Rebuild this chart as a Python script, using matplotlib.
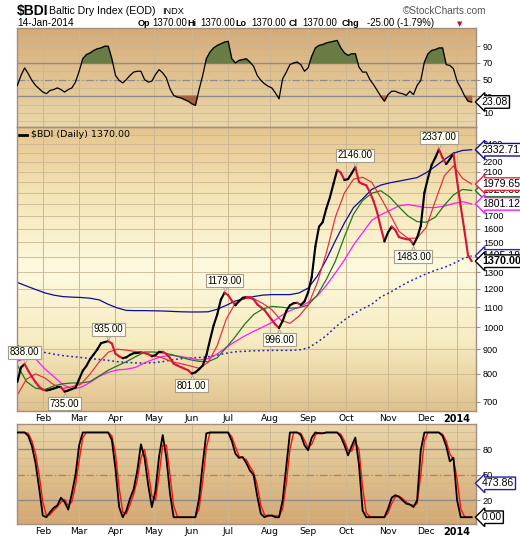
"""Baltic Dry Index, one year daily, StockCharts-style three panel chart."""

import matplotlib

matplotlib.use("Agg")
import matplotlib.pyplot as plt
import matplotlib.transforms as mtransforms
import numpy as np
import pandas as pd
from matplotlib.collections import LineCollection
from matplotlib.colors import LinearSegmentedColormap
from matplotlib.ticker import NullLocator

plt.rcParams["font.family"] = ["DejaVu Sans"]

# --- data -----------------------------------------------------------------
HOLIDAYS = ["2013-03-29", "2013-04-01", "2013-05-06", "2013-05-27", "2013-08-26",
            "2013-12-24", "2013-12-25", "2013-12-26", "2013-12-27", "2013-12-31",
            "2014-01-01"]
sessions = pd.bdate_range("2013-01-14", "2014-01-14", freq="C", holidays=HOLIDAYS)

# closes, every 2nd session
price = [770, 825, 838, 812, 789, 769, 752, 742, 739, 742,
         746, 750, 750, 735, 739, 744, 749, 780, 812, 831,
         858, 878, 899, 926, 931, 935, 925, 881, 870, 862,
         866, 876, 883, 884, 887, 884, 879, 870, 875, 889,
         889, 880, 863, 840, 833, 826, 820, 814, 801, 806,
         818, 832, 874, 940, 1008, 1062, 1140, 1179, 1165, 1135,
         1110, 1132, 1150, 1155, 1153, 1142, 1115, 1100, 1085, 1060,
         1036, 1012, 996, 1030, 1080, 1110, 1121, 1123, 1112, 1130,
         1180, 1270, 1470, 1615, 1650, 1760, 1858, 1985, 2118, 2090,
         2018, 2028, 2085, 2146, 2000, 1981, 1968, 1905, 1826, 1730,
         1610, 1506, 1572, 1616, 1589, 1537, 1529, 1522, 1519, 1483,
         1533, 1620, 1900, 2040, 2170, 2245, 2337, 2245, 2178, 2230,
         2290, 2010, 1780, 1590, 1410, 1370]

# overlays, every 5th session
ma_red = [723, 780, 800, 785, 760, 746, 752, 762, 799, 847,
          887, 900, 896, 890, 882, 873, 863, 848, 840, 831,
          822, 845, 916, 1040, 1122, 1147, 1146, 1120, 1087, 1034,
          1018, 1054, 1110, 1235, 1424, 1690, 1898, 2027, 2045, 1998,
          1855, 1716, 1580, 1528, 1530, 1610, 1825, 2060, 2160, 2035,
          1979.65]
ma_green = [834, 771, 747, 742, 755, 763, 766, 766, 771, 792,
            814, 831, 848, 868, 888, 888, 884, 877, 866, 856,
            849, 848, 864, 907, 956, 1013, 1062, 1090, 1104, 1100,
            1095, 1097, 1111, 1165, 1255, 1370, 1540, 1715, 1830, 1895,
            1918, 1860, 1775, 1700, 1655, 1650, 1690, 1790, 1880, 1930,
            1920.39]
ma_magenta = [850, 862, 860, 820, 790, 760, 745, 750, 768, 790,
              806, 815, 818, 825, 843, 858, 870, 874, 869, 862,
              855, 860, 880, 908, 934, 958, 980, 1000, 1022, 1055,
              1082, 1100, 1125, 1160, 1220, 1295, 1378, 1480, 1570, 1665,
              1710, 1746, 1784, 1795, 1782, 1770, 1770, 1782, 1805, 1820,
              1801.12]
ma_blue = [1238, 1217, 1197, 1178, 1165, 1157, 1154, 1152, 1148, 1139,
           1115, 1096, 1083, 1082, 1082, 1081, 1080, 1078, 1076, 1075,
           1075, 1076, 1089, 1110, 1133, 1145, 1157, 1165, 1168, 1168,
           1168, 1177, 1205, 1275, 1380, 1510, 1645, 1770, 1845, 1930,
           1970, 1992, 2008, 2025, 2042, 2090, 2155, 2225, 2295, 2325,
           2332.71]
ma_dotted = [915, 905, 895, 886, 879, 873, 869, 865, 861, 857,
             853, 848, 845, 843, 842, 844, 848, 855, 860, 863,
             865, 868, 875, 883, 889, 891, 893, 894, 895, 895,
             895, 897, 905, 930, 960, 1000, 1035, 1065, 1092, 1115,
             1155, 1180, 1210, 1240, 1265, 1290, 1312, 1330, 1355, 1385,
             1405.18]

# RSI and stochastics, every 2nd session
rsi = [43, 55, 64, 57, 49, 43, 39, 35, 33, 37,
       38, 40, 38, 35, 38, 40, 47, 60, 75, 80,
       82, 85, 87, 88, 90, 90, 75, 55, 49, 46,
       50, 55, 59, 60, 60, 50, 47, 48, 56, 62,
       58, 52, 39, 31, 29, 28, 26, 24, 21, 19,
       38, 55, 75, 83, 88, 91, 93, 95, 96, 75,
       70, 73, 74, 75, 71, 66, 55, 49, 45, 42,
       40, 34, 27, 51, 59, 68, 70, 71, 68, 60,
       64, 78, 88, 91, 92, 94, 95, 96, 97, 88,
       82, 79, 81, 81, 65, 59, 59, 50, 44, 37,
       30, 24, 32, 36, 36, 34, 33, 31, 36, 32,
       43, 49, 71, 81, 85, 86, 88, 88, 68, 67,
       63, 48, 40, 31, 24, 23.08]
stoch_k = [100, 100, 100, 96, 84, 64, 34, 2, 0, 6,
           11, 14, 23, 18, 9, 28, 50, 85, 100, 100,
           100, 100, 100, 100, 100, 100, 91, 57, 12, 0,
           8, 22, 33, 55, 86, 70, 38, 12, 31, 72,
           97, 70, 28, 0, 0, 0, 0, 0, 0, 0,
           22, 63, 99, 100, 100, 100, 100, 100, 100, 90,
           75, 70, 71, 64, 55, 50, 25, 4, 0, 2,
           2, 0, 0, 20, 60, 100, 100, 100, 97, 85,
           79, 94, 100, 99, 99, 100, 100, 100, 100, 95,
           85, 73, 84, 94, 62, 8, 0, 0, 0, 0,
           0, 0, 10, 23, 26, 24, 20, 16, 15, 12,
           20, 79, 100, 100, 100, 100, 100, 96, 84, 66,
           70, 20, 0, 0, 0, 0]
stoch_d = [100, 100, 100, 99, 90, 75, 50, 18, 2, 3,
           8, 12, 18, 21, 14, 18, 38, 67, 94, 100,
           100, 100, 100, 100, 100, 100, 96, 75, 35, 6,
           4, 15, 27, 44, 70, 80, 55, 25, 20, 50,
           85, 85, 50, 14, 1, 0, 0, 0, 0, 0,
           10, 42, 82, 100, 100, 100, 100, 100, 100, 95,
           83, 72, 70, 68, 60, 53, 38, 14, 3, 1,
           2, 2, 1, 10, 40, 80, 100, 100, 99, 91,
           82, 86, 97, 100, 99, 100, 100, 100, 100, 98,
           90, 79, 78, 89, 80, 35, 5, 1, 0, 0,
           0, 0, 5, 16, 24, 25, 22, 18, 15, 14,
           16, 50, 90, 100, 100, 100, 100, 98, 90, 75,
           68, 45, 10, 1, 0, 0]

peak_values = [838, 735, 935, 801, 1179, 996, 2146, 1483, 2337]
peak_is_high = [True, False, True, False, True, False, True, False, True]

price_y_ticks = list(range(700, 2500, 100))

# --- layout ---------------------------------------------------------------
W, H = 520, 540
fig = plt.figure(figsize=(W / 100, H / 100), dpi=100)
fig.patch.set_facecolor("white")

idx = np.arange(len(sessions))
x_price = idx[::2]
x_ma = idx[::5]
XMIN, XMAX = -0.2, idx[-1] + 2.4

month_pos = [i for i in range(1, len(sessions)) if sessions[i].month != sessions[i - 1].month]
month_names = [sessions[i].strftime("%b") if sessions[i].year == 2013 else str(sessions[i].year)
               for i in month_pos]

GRID = "#cbb792"
SPINE = "#a38e82"
LINE_GRAY = "#8c8c8c"


def rect(top, bottom):
    return [17 / W, 1 - bottom / H, 459 / W, (bottom - top) / H]


def panel(r, stops):
    bg = fig.add_axes(r, zorder=0)
    cmap = LinearSegmentedColormap.from_list("bg", stops)
    bg.imshow(np.linspace(0, 1, 256)[:, None], aspect="auto", cmap=cmap,
              extent=[0, 1, 0, 1], origin="upper")
    bg.axis("off")
    ax = fig.add_axes(r, zorder=1)
    ax.set_facecolor("none")
    for s in ax.spines.values():
        s.set_color(SPINE)
        s.set_linewidth(1)
    ax.yaxis.tick_right()
    ax.tick_params(axis="y", which="both", direction="out", length=3, color=SPINE,
                   labelsize=6.5, pad=2)
    ax.tick_params(axis="x", length=0, labelsize=6.6, pad=2.5)
    ax.set_xlim(XMIN, XMAX)
    for m in month_pos:
        ax.axvline(m, color=GRID, lw=0.7, zorder=0.5)
    ax.set_xticks(month_pos)
    ax.set_xticklabels([])
    return ax


def month_labels(ax):
    ax.set_xticklabels(month_names)
    for lab in ax.get_xticklabels():
        if lab.get_text() == "2014":
            lab.set_fontweight("bold")
            lab.set_fontsize(7)


def end_tag(ax, y, text, color, bold=False, size=7.6):
    tr = mtransforms.blended_transform_factory(ax.transAxes, ax.transData)
    ax.text(1.013, y, text, transform=tr, ha="left", va="center", fontsize=size,
            family="Liberation Sans", fontweight="bold" if bold else "normal",
            bbox=dict(boxstyle="larrow,pad=0.12", fc="white", ec=color, lw=1),
            zorder=30, clip_on=False)


def y_labels(ax):
    for lab in ax.get_yticklabels():
        lab.set_family("Liberation Sans")
        lab.set_fontsize(6.6)


# --- RSI panel ------------------------------------------------------------
ax_rsi = panel(rect(28, 127), ["#d5ab76", "#e1c391", "#ead7ab"])
ax_rsi.set_ylim(-7, 112)
for v in range(0, 101, 10):
    ax_rsi.axhline(v, color=GRID, lw=0.5, zorder=0.4)
ax_rsi.axhline(70, color=LINE_GRAY, lw=1, zorder=1)
ax_rsi.axhline(30, color=LINE_GRAY, lw=1, zorder=1)
ax_rsi.axhline(50, color=LINE_GRAY, lw=0.9, ls=(0, (6, 2, 1, 2)), zorder=1)
rsi_arr = np.array(rsi, dtype=float)
ax_rsi.fill_between(x_price, rsi_arr, 70, where=rsi_arr >= 70, interpolate=True,
                    color="#687c44", zorder=2)
ax_rsi.fill_between(x_price, rsi_arr, 30, where=rsi_arr <= 30, interpolate=True,
                    color="#a4623f", zorder=2)
ax_rsi.plot(x_price, rsi_arr, color="black", lw=0.9, zorder=3)
ax_rsi.set_yticks([10, 30, 50, 70, 90])
y_labels(ax_rsi)
end_tag(ax_rsi, rsi[-1], f"{rsi[-1]:.2f}", "black")

# --- price panel ----------------------------------------------------------
ax = panel(rect(127, 411), ["#e5c58e", "#f5e6b8", "#fefadf", "#f7ecc2", "#e0c28c"])
ax.set_yscale("log")
ax.set_ylim(670, 2600)
ax.yaxis.set_minor_locator(NullLocator())
ax.set_yticks(price_y_ticks)
ax.set_yticklabels([str(v) for v in price_y_ticks])
y_labels(ax)
for v in price_y_ticks + [2500]:
    ax.axhline(v, color=GRID, lw=0.6, zorder=0.4)
month_labels(ax)

ax.plot(x_ma, ma_dotted, color="#2626b4", lw=1.1, ls=(0, (1.2, 1.8)), zorder=2)
ax.plot(x_ma, ma_blue, color="#0c0c9a", lw=0.9, zorder=2)
ax.plot(x_ma, ma_magenta, color="#ff18ff", lw=0.9, zorder=2)
ax.plot(x_ma, ma_green, color="#1a7a1a", lw=0.9, zorder=2)
ax.plot(x_ma, ma_red, color="#e8283c", lw=0.85, zorder=2)

pts = np.column_stack([x_price, price])
segs = np.stack([pts[:-1], pts[1:]], axis=1)
seg_colors = ["black" if b >= a else "#d4163a" for a, b in zip(price[:-1], price[1:])]
ax.add_collection(LineCollection(segs, colors=seg_colors, linewidths=1.55,
                                 capstyle="round", zorder=3))

for v, high in zip(peak_values, peak_is_high):
    i = price.index(v)
    sign = 1 if high else -1
    ax.annotate(f"{v:.2f}", xy=(x_price[i], v), xytext=(0, sign * 8.6),
                textcoords="offset points", ha="center", va="center", fontsize=7,
                family="Liberation Sans", annotation_clip=False, zorder=6,
                bbox=dict(boxstyle="square,pad=0.16", fc="#fffff4", ec="#a89c8c", lw=0.8))
    tri = mtransforms.offset_copy(ax.transData, fig=fig, y=sign * 3.0, units="points")
    ax.plot(x_price[i], v, marker="v" if high else "^", ms=5, color="#ece6da",
            mec="#a89c8c", mew=0.6, transform=tri, zorder=5, clip_on=False)

ax.plot([0.005, 0.022], [0.972, 0.972], transform=ax.transAxes, color="black", lw=2)
ax.text(0.031, 0.972, f"$BDI (Daily) {price[-1]:.2f}", transform=ax.transAxes,
        fontsize=6.8, va="center", ha="left")

end_tag(ax, ma_dotted[-1], f"{ma_dotted[-1]:.2f}", "#2626b4")
end_tag(ax, ma_blue[-1], f"{ma_blue[-1]:.2f}", "#0c0c9a")
end_tag(ax, ma_green[-1], f"{ma_green[-1]:.2f}", "#1a7a1a")
end_tag(ax, ma_red[-1], f"{ma_red[-1]:.2f}", "#e8283c")
end_tag(ax, ma_magenta[-1], f"{ma_magenta[-1]:.2f}", "#ff18ff")
end_tag(ax, price[-1], f"{price[-1]:.2f}", "black", bold=True, size=7.8)

# --- stochastics panel ----------------------------------------------------
ax_st = panel(rect(424, 524), ["#eAd5a8", "#dfbf8c", "#d3a874"])
ax_st.set_ylim(-8, 110)
for v in range(0, 101, 10):
    ax_st.axhline(v, color=GRID, lw=0.5, zorder=0.4)
ax_st.axhline(80, color=LINE_GRAY, lw=1, zorder=1)
ax_st.axhline(20, color=LINE_GRAY, lw=1, zorder=1)
ax_st.axhline(50, color=LINE_GRAY, lw=0.9, ls=(0, (6, 2, 1, 2)), zorder=1)
ax_st.plot(x_price, stoch_d, color="#ff1010", lw=1.0, zorder=2)
ax_st.plot(x_price, stoch_k, color="black", lw=1.3, zorder=3)
ax_st.set_yticks([20, 50, 80])
y_labels(ax_st)
month_labels(ax_st)
end_tag(ax_st, 40, "473.86", "#2020b0")
end_tag(ax_st, stoch_k[-1], f"{stoch_k[-1]:.2f}", "black")

# --- header ---------------------------------------------------------------
def htext(x, y, s, **kw):
    kw.setdefault("family", "Liberation Sans")
    kw.setdefault("fontsize", 7.6)
    fig.text(x / W, 1 - y / H, s, va="center", ha=kw.pop("ha", "left"), **kw)


htext(17, 11, "$BDI", fontsize=10, fontweight="bold")
htext(49, 11, "Baltic Dry Index (EOD)")
htext(162, 11.5, "INDX", fontsize=6.6)
htext(486, 11, "\u00a9StockCharts.com", ha="right", color="#555555", fontsize=7.2)
htext(17, 23.5, "14-Jan-2014", fontsize=7.2)
for x0, s, bold in [(137.5, "Op", True), (152.5, "1370.00", False), (187.5, "Hi", True),
                    (200.5, "1370.00", False), (235.5, "Lo", True), (251, "1370.00", False),
                    (289, "Cl", True), (302, "1370.00", False), (341.5, "Chg", True),
                    (367, "-25.00 (-1.79%)", False)]:
    htext(x0, 23.5, s, fontsize=6.5 if bold else 6.9, fontweight="bold" if bold else "normal")
htext(457, 24, "\u25bc", family="DejaVu Sans", fontsize=5, color="#c0102a")

fig.savefig("out.png", dpi=100, facecolor="white")
